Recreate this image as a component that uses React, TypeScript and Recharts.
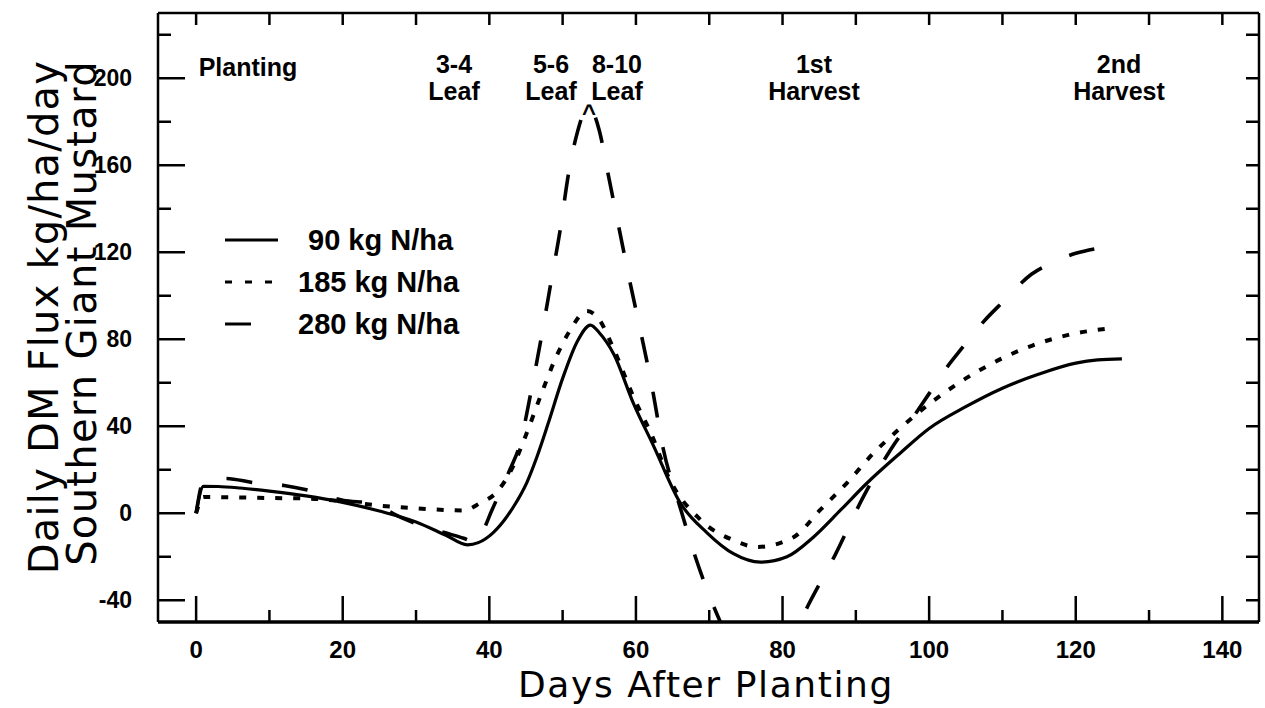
import React from 'react';
import { LineChart, Line, XAxis, YAxis } from 'recharts';

// days after planting / daily DM flux (kg/ha/day)
const days90 = [0, 1, 3, 6, 10, 15, 20, 25, 30, 34, 37, 38.5, 40.5, 43.3, 45.1, 46.5, 48, 50, 52, 53.8, 55, 57, 59.6, 62.4, 66, 69.7, 73.3, 77, 80.6, 84.2, 87.9, 91.5, 96, 100, 105, 110, 115, 120, 123, 126.3];
const flux90 = [0, 12.4, 12.3, 11.6, 10.2, 8, 5, 1, -4, -10, -14.5, -13.5, -9, 3, 14, 26, 41, 62, 79, 86.5, 83, 73, 51, 31, 5, -9, -18.6, -22.5, -20, -11, 1.4, 13.8, 27.5, 39, 49, 57.5, 64, 69, 70.5, 71];

const days185 = [0, 1, 5, 10, 15, 20, 25, 30, 34, 36.5, 38.7, 41, 43, 45, 47, 49, 51, 53.3, 55, 56.9, 59.6, 62.4, 64.2, 68.8, 73.3, 76.5, 81.5, 85.1, 88.8, 92.4, 96, 100.5, 107, 114, 119, 124.6];
const flux185 = [0, 7.5, 7.3, 7, 6.8, 5.5, 3.5, 2.3, 1.5, 1.3, 4.6, 9.7, 20, 36, 54, 71, 84, 93, 89, 76, 54, 34, 18.4, -3, -12.4, -15.5, -11, 1.4, 14, 27.6, 39, 51.5, 66, 77, 82, 85];

const days280 = [0, 1, 4, 8, 12, 16, 20, 24, 28, 31, 34, 36.5, 38.3, 39.3, 40.3, 41.5, 42.8, 44.2, 45.7, 47.1, 48.4, 49.7, 50.8, 52, 53.5, 55, 56.2, 57.7, 59.2, 60.8, 62.2, 63.7, 66, 68.1, 71, 74, 77, 80, 83.4, 87.2, 91, 94.7, 97.8, 100, 102.4, 104.5, 107.4, 110, 114, 117, 120, 123.3];
const flux280 = [0, 14.5, 16, 14, 12.8, 10, 6, 4.5, -2, -6, -9, -11.5, -13.5, -7, 1, 10, 20, 32, 56, 81, 106, 131, 156, 175, 187, 176, 156, 131, 106, 81, 58, 30, 3, -20, -46, -66, -74, -67, -43, -19, 7.4, 29, 44, 55, 67, 76, 88, 97, 110, 115.5, 119.5, 122];

const xTicks = [0, 10, 20, 30, 40, 50, 60, 70, 80, 90, 100, 110, 120, 130, 140];
const yTicks = [-40, -20, 0, 20, 40, 60, 80, 100, 120, 140, 160, 180, 200, 220];

const zip = (d: number[], f: number[]) => d.map((x, i) => ({ x, y: f[i] }));
const data90 = zip(days90, flux90);
const data185 = zip(days185, flux185);
const data280 = zip(days280, flux280);

const LABEL_FONT = '"Liberation Sans", Arial, sans-serif';
const TITLE_FONT = '"DejaVu Sans", sans-serif';

const BottomTick = (props: any) => {
  const { x, y, payload } = props;
  const major = payload.value % 20 === 0;
  return (
    <g>
      <line x1={x} x2={x} y1={y} y2={y - (major ? 26 : 12)} stroke="#000" strokeWidth={2.5} />
      {major && (
        <text x={x} y={y + 36} textAnchor="middle" fontFamily={LABEL_FONT} fontWeight="bold" fontSize={24} fill="#000">
          {payload.value}
        </text>
      )}
    </g>
  );
};

const TopTick = (props: any) => {
  const { x, y } = props;
  return <line x1={x} x2={x} y1={y} y2={y + 12} stroke="#000" strokeWidth={2.5} />;
};

const LeftTick = (props: any) => {
  const { x, y, payload } = props;
  const major = payload.value % 40 === 0;
  return (
    <g>
      <line x1={x} x2={x + (major ? 27 : 13)} y1={y} y2={y} stroke="#000" strokeWidth={2.5} />
      {major && (
        <text x={x - 26} y={y + 8} textAnchor="end" fontFamily={LABEL_FONT} fontWeight="bold" fontSize={23} fill="#000">
          {payload.value}
        </text>
      )}
    </g>
  );
};

const RightTick = (props: any) => {
  const { x, y } = props;
  return <line x1={x} x2={x - 13} y1={y} y2={y} stroke="#000" strokeWidth={2.5} />;
};

const stages = [
  { x: 248, lines: ['Planting'] },
  { x: 454, lines: ['3-4', 'Leaf'] },
  { x: 551, lines: ['5-6', 'Leaf'] },
  { x: 617, lines: ['8-10', 'Leaf'] },
  { x: 814, lines: ['1st', 'Harvest'] },
  { x: 1119, lines: ['2nd', 'Harvest'] },
];

export default function App() {
  return (
    <div style={{ position: 'absolute', left: 0, top: 0, width: 1265, height: 708, background: '#fff' }}>
      <LineChart width={1265} height={708} margin={{ top: 0, right: 0, bottom: 0, left: 0 }}>
        <XAxis
          xAxisId="b"
          dataKey="x"
          type="number"
          domain={[-5.2, 145]}
          allowDataOverflow
          ticks={xTicks}
          interval={0}
          height={86}
          tickSize={0}
          tickMargin={0}
          tickLine={false}
          tick={<BottomTick />}
          axisLine={{ stroke: '#000', strokeWidth: 3.5 }}
        />
        <XAxis
          xAxisId="t"
          orientation="top"
          dataKey="x"
          type="number"
          domain={[-5.2, 145]}
          allowDataOverflow
          ticks={xTicks}
          interval={0}
          height={13}
          tickSize={0}
          tickMargin={0}
          tickLine={false}
          tick={<TopTick />}
          axisLine={{ stroke: '#000', strokeWidth: 2.5 }}
        />
        <YAxis
          yAxisId="l"
          type="number"
          domain={[-50, 230]}
          allowDataOverflow
          ticks={yTicks}
          interval={0}
          width={158}
          tickSize={0}
          tickMargin={0}
          tickLine={false}
          tick={<LeftTick />}
          axisLine={{ stroke: '#000', strokeWidth: 2.5 }}
        />
        <YAxis
          yAxisId="r"
          orientation="right"
          type="number"
          domain={[-50, 230]}
          allowDataOverflow
          ticks={yTicks}
          interval={0}
          width={6}
          tickSize={0}
          tickMargin={0}
          tickLine={false}
          tick={<RightTick />}
          axisLine={{ stroke: '#000', strokeWidth: 2.5 }}
        />
        <Line xAxisId="b" yAxisId="l" data={data90} dataKey="y" type="monotone" stroke="#000" strokeWidth={3.2} dot={false} isAnimationActive={false} />
        <Line xAxisId="b" yAxisId="l" data={data185} dataKey="y" type="monotone" stroke="#000" strokeWidth={4} strokeDasharray="7 11" dot={false} isAnimationActive={false} />
        <Line xAxisId="b" yAxisId="l" data={data280} dataKey="y" type="monotone" stroke="#000" strokeWidth={3.6} strokeDasharray="26 30" dot={false} isAnimationActive={false} />
      </LineChart>
      <svg width={1265} height={708} style={{ position: 'absolute', left: 0, top: 0, pointerEvents: 'none' }}>
        {stages.map((s) =>
          s.lines.map((t, i) => (
            <text
              key={s.x + t}
              x={s.x}
              y={i === 0 ? (s.lines.length === 1 ? 76 : 73) : 100}
              textAnchor="middle"
              fontFamily={LABEL_FONT}
              fontWeight="bold"
              fontSize={25}
              fill="#000"
            >
              {t}
            </text>
          ))
        )}
        <text x={589} y={121} textAnchor="middle" fontFamily={LABEL_FONT} fontWeight="bold" fontSize={24} fill="#000">^</text>

        {/* legend */}
        <line x1={225} x2={278} y1={240} y2={240} stroke="#000" strokeWidth={3} />
        <line x1={225} x2={278} y1={282} y2={282} stroke="#000" strokeWidth={3} strokeDasharray="7 13" />
        <line x1={225} x2={251} y1={324} y2={324} stroke="#000" strokeWidth={3} />
        <text x={308} y={250} fontFamily={LABEL_FONT} fontWeight="bold" fontSize={29} fill="#000">90 kg N/ha</text>
        <text x={298} y={292} fontFamily={LABEL_FONT} fontWeight="bold" fontSize={29} fill="#000">185 kg N/ha</text>
        <text x={298} y={334} fontFamily={LABEL_FONT} fontWeight="bold" fontSize={29} fill="#000">280 kg N/ha</text>

        {/* axis titles */}
        <text x={706} y={697} textAnchor="middle" fontFamily={TITLE_FONT} fontSize={36} letterSpacing={1.6} fill="#000">Days After Planting</text>
        <text transform="translate(58,317) rotate(-90)" textAnchor="middle" fontFamily={TITLE_FONT} fontSize={40} letterSpacing={1.2} fill="#000">
          Daily DM Flux kg/ha/day
        </text>
        <text transform="translate(96,313) rotate(-90)" textAnchor="middle" fontFamily={TITLE_FONT} fontSize={40} letterSpacing={1.3} fill="#000">
          Southern Giant Mustard
        </text>
      </svg>
    </div>
  );
}
